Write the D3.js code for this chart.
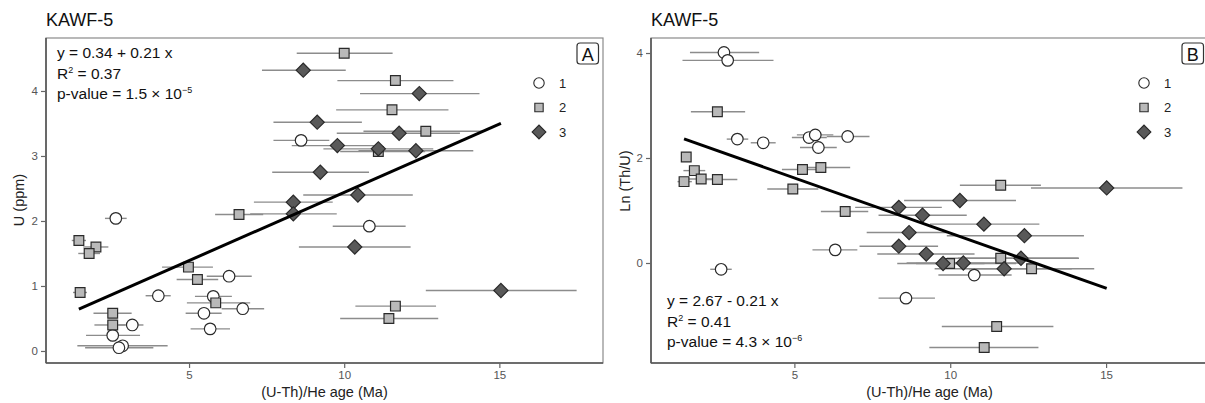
<!DOCTYPE html>
<html><head><meta charset="utf-8">
<script src="https://cdn.jsdelivr.net/npm/d3@7"></script>
<style>body{margin:0;background:#fff} svg{display:block} text{font-family:"Liberation Sans",Arial,Helvetica,sans-serif}</style>
</head><body><svg id="c" width="1205" height="403"></svg>
<script>
// Group labels
const groups = ["1", "2", "3"];
const xTicks = [5, 10, 15];
const yTicksA = [0, 1, 2, 3, 4];
const yTicksB = [0, 2, 4];

// Panel A: U (ppm) vs (U-Th)/He age. Rows: [age, U, ageLow, ageHigh]
const uGroup1 = [
  [2.64, 2.04, 2.29, 2.99], [6.29, 1.15, 5.57, 7.02], [4.01, 0.85, 3.60, 4.41],
  [5.78, 0.84, 5.19, 6.38], [6.73, 0.65, 6.05, 7.42], [5.48, 0.58, 4.89, 6.05],
  [5.68, 0.34, 5.05, 6.32], [3.17, 0.40, 2.72, 3.53], [2.54, 0.24, 1.68, 3.42],
  [2.86, 0.08, 1.40, 4.31], [2.74, 0.05, 1.65, 3.85], [10.81, 1.92, 9.63, 11.98],
  [8.61, 3.24, 7.72, 9.52]
];
const uGroup2 = [
  [1.45, 1.70, 1.22, 1.68], [2.00, 1.60, 1.59, 2.40], [1.78, 1.50, 1.43, 2.13],
  [1.49, 0.90, 1.26, 1.71], [4.98, 1.29, 4.13, 5.77], [5.27, 1.10, 4.60, 5.94],
  [5.86, 0.74, 4.93, 6.97], [2.54, 0.58, 1.92, 3.15], [2.54, 0.40, 1.95, 2.94],
  [6.61, 2.10, 5.84, 7.39], [11.65, 0.69, 10.36, 12.96], [11.44, 0.50, 9.87, 13.03],
  [10.00, 4.58, 8.47, 11.56], [11.65, 4.16, 9.78, 13.52], [11.54, 3.71, 9.74, 13.36],
  [12.63, 3.38, 10.62, 14.48], [11.10, 3.07, 9.87, 12.61]
];
const uGroup3 = [
  [8.68, 4.32, 7.35, 10.05], [12.42, 3.96, 10.51, 14.36], [9.13, 3.52, 7.72, 10.57],
  [11.77, 3.35, 9.76, 13.73], [9.78, 3.16, 8.31, 11.16], [11.10, 3.11, 9.33, 12.87],
  [12.31, 3.08, 10.46, 14.16], [9.23, 2.75, 7.68, 10.80], [10.44, 2.40, 8.68, 12.21],
  [8.36, 2.29, 7.09, 9.63], [8.36, 2.11, 6.97, 9.76], [10.34, 1.60, 8.54, 12.14],
  [15.05, 0.93, 12.63, 17.49]
];

// Panel B: Ln(Th/U) vs (U-Th)/He age. Rows: [age, ln(Th/U), ageLow, ageHigh]
const lnGroup1 = [
  [2.74, 4.01, 1.65, 3.87], [2.86, 3.86, 1.41, 4.33], [3.17, 2.36, 2.83, 3.52],
  [4.00, 2.29, 3.60, 4.40], [5.47, 2.39, 4.92, 6.04], [5.67, 2.44, 5.08, 6.25],
  [6.71, 2.41, 6.04, 7.41], [5.77, 2.20, 5.18, 6.36], [6.31, 0.25, 5.58, 7.02],
  [2.65, -0.12, 2.30, 2.99], [10.77, -0.23, 9.62, 11.97], [8.58, -0.67, 7.70, 9.51]
];
const lnGroup2 = [
  [2.53, 2.88, 1.68, 3.42], [1.53, 2.02, 1.39, 1.65], [1.79, 1.76, 1.44, 2.14],
  [2.01, 1.60, 1.44, 2.46], [2.53, 1.59, 1.92, 3.17], [1.46, 1.55, 1.25, 1.71],
  [5.26, 1.78, 4.60, 5.77], [5.85, 1.82, 5.08, 6.79], [4.95, 1.41, 4.13, 5.77],
  [6.63, 0.98, 5.85, 7.37], [11.62, 1.48, 10.31, 12.91], [9.98, -0.01, 8.90, 11.10],
  [11.62, 0.09, 9.89, 14.11], [12.61, -0.11, 10.60, 14.62], [11.49, -1.21, 9.73, 13.31],
  [11.09, -1.61, 9.33, 12.83]
];
const lnGroup3 = [
  [15.02, 1.43, 12.59, 17.45], [10.31, 1.19, 8.52, 12.11], [8.35, 1.06, 6.95, 9.73],
  [9.11, 0.91, 7.70, 10.53], [11.08, 0.74, 9.35, 12.86], [8.68, 0.58, 7.32, 9.89],
  [12.38, 0.52, 9.89, 14.29], [8.35, 0.32, 7.09, 9.61], [9.23, 0.17, 7.66, 10.78],
  [9.77, -0.01, 8.30, 12.11], [10.42, 0.00, 8.60, 12.20], [12.27, 0.09, 10.25, 14.13],
  [11.73, -0.11, 9.50, 13.90]
];

// Regression fits [intercept, slope]
const fitA = [0.34, 0.21];
const fitB = [2.67, -0.21];
const statsA = ["y = 0.34 + 0.21 x", "0.37", "1.5", "-5"];
const statsB = ["y = 2.67 - 0.21 x", "0.41", "4.3", "-6"];

const svg = d3.select("#c");
const fills = ["#ffffff", "#b9b9b9", "#595959"];
const symTypes = [d3.symbolCircle, d3.symbolSquare, d3.symbolSquare];
const symRot = [0, 0, 45];
const symSizes = [105, 95, 100];
const legSizes = [85, 70, 95];

function drawPanel(cfg) {
  const g = svg.append("g");
  const x = d3.scaleLinear().domain(cfg.xDomain).range([cfg.left, cfg.right]);
  const y = d3.scaleLinear().domain(cfg.yDomain).range([cfg.bottom, cfg.top]);

  // title
  g.append("text").attr("x", cfg.left).attr("y", 26).attr("font-size", 18).attr("fill", "#111").text("KAWF-5");

  // frame
  g.append("rect").attr("x", cfg.left).attr("y", cfg.top)
    .attr("width", cfg.right - cfg.left).attr("height", cfg.bottom - cfg.top)
    .attr("fill", "none").attr("stroke", "#8a8a8a").attr("stroke-width", 1.2);
  g.append("line").attr("x1", cfg.left).attr("x2", cfg.left).attr("y1", cfg.top).attr("y2", cfg.bottom)
    .attr("stroke", "#555").attr("stroke-width", 1.6);
  g.append("line").attr("x1", cfg.left).attr("x2", cfg.right).attr("y1", cfg.bottom).attr("y2", cfg.bottom)
    .attr("stroke", "#555").attr("stroke-width", 1.6);

  // axes
  const ax = g.append("g").attr("transform", `translate(0,${cfg.bottom})`)
    .call(d3.axisBottom(x).tickValues(xTicks).tickSize(5).tickPadding(3).tickFormat(d3.format("d")));
  const ay = g.append("g").attr("transform", `translate(${cfg.left},0)`)
    .call(d3.axisLeft(y).tickValues(cfg.yTicks).tickSize(5).tickPadding(3).tickFormat(d3.format("d")));
  [ax, ay].forEach(a => {
    a.select(".domain").remove();
    a.selectAll(".tick line").attr("stroke", "#666").attr("stroke-width", 1.2);
    a.selectAll(".tick text").attr("fill", "#555").attr("font-size", 11.5)
      .attr("font-family", '"Liberation Sans",Arial,sans-serif');
  });

  // axis titles
  g.append("text").attr("x", (cfg.left + cfg.right) / 2).attr("y", 397).attr("text-anchor", "middle")
    .attr("font-size", 14.5).attr("fill", "#222").text("(U-Th)/He age (Ma)");
  g.append("text").attr("transform", `translate(${cfg.yLabelX},${cfg.yLabelY}) rotate(-90)`)
    .attr("text-anchor", "middle").attr("font-size", 14.5).attr("fill", "#222").text(cfg.yLabel);

  // error bars
  cfg.data.forEach((rows) => {
    g.append("g").selectAll("line").data(rows).join("line")
      .attr("x1", d => x(d[2])).attr("x2", d => x(d[3]))
      .attr("y1", d => y(d[1])).attr("y2", d => y(d[1]))
      .attr("stroke", "#8c8c8c").attr("stroke-width", 1.4);
  });
  // points
  cfg.data.forEach((rows, i) => {
    const sym = d3.symbol().type(symTypes[i]).size(symSizes[i]);
    g.append("g").selectAll("path").data(rows).join("path")
      .attr("transform", d => `translate(${x(d[0])},${y(d[1])}) rotate(${symRot[i]})`)
      .attr("d", sym).attr("fill", fills[i]).attr("stroke", "#2a2a2a").attr("stroke-width", 1.2);
  });

  // regression line
  const all = cfg.data.flat();
  const xMin = d3.min(all, d => d[0]), xMax = d3.max(all, d => d[0]);
  g.append("line").attr("x1", x(xMin)).attr("x2", x(xMax))
    .attr("y1", y(cfg.fit[0] + cfg.fit[1] * xMin)).attr("y2", y(cfg.fit[0] + cfg.fit[1] * xMax))
    .attr("stroke", "#000").attr("stroke-width", 3);

  // stats text
  const st = g.append("g").attr("font-size", 15.5).attr("fill", "#111");
  st.append("text").attr("x", cfg.statX).attr("y", cfg.statY).text(cfg.stats[0]);
  const r2 = st.append("text").attr("x", cfg.statX).attr("y", cfg.statY + 20.5);
  r2.append("tspan").text("R");
  r2.append("tspan").attr("font-size", 9).attr("dy", -6).text("2");
  r2.append("tspan").attr("dy", 6).text(" = " + cfg.stats[1]);
  const pv = st.append("text").attr("x", cfg.statX).attr("y", cfg.statY + 41);
  pv.append("tspan").text("p-value = " + cfg.stats[2] + " \u00d7 10");
  pv.append("tspan").attr("font-size", 9).attr("dy", -6).text(cfg.stats[3].replace("-", "\u2212"));

  // legend
  groups.forEach((lab, i) => {
    const ly = 83 + i * 24.5;
    g.append("path").attr("transform", `translate(${cfg.legX},${ly}) rotate(${symRot[i]})`)
      .attr("d", d3.symbol().type(symTypes[i]).size(legSizes[i]))
      .attr("fill", fills[i]).attr("stroke", "#2a2a2a").attr("stroke-width", 1.1);
    g.append("text").attr("x", cfg.legX + 20).attr("y", ly + 4.5).attr("font-size", 13).attr("fill", "#222").text(lab);
  });

  // panel letter
  g.append("rect").attr("x", cfg.boxX).attr("y", 43).attr("width", 21.5).attr("height", 21)
    .attr("rx", 3).attr("fill", "#fff").attr("stroke", "#333").attr("stroke-width", 1.2);
  g.append("text").attr("x", cfg.boxX + 10.75).attr("y", 60.5).attr("text-anchor", "middle")
    .attr("font-size", 18).attr("fill", "#111").text(cfg.letter);
}

drawPanel({
  left: 46, right: 603, top: 38, bottom: 363,
  xDomain: [0.39, 18.34], yDomain: [-0.185, 4.815], yTicks: yTicksA,
  data: [uGroup1, uGroup2, uGroup3], fit: fitA, stats: statsA,
  statX: 57, statY: 58, legX: 539, boxX: 577,
  letter: "A", yLabel: "U (ppm)", yLabelX: 24, yLabelY: 200
});
drawPanel({
  left: 651, right: 1208, top: 38, bottom: 363,
  xDomain: [0.40, 18.27], yDomain: [-1.905, 4.286], yTicks: yTicksB,
  data: [lnGroup1, lnGroup2, lnGroup3], fit: fitB, stats: statsB,
  statX: 667, statY: 306, legX: 1144, boxX: 1182,
  letter: "B", yLabel: "Ln (Th/U)", yLabelX: 630, yLabelY: 181
});
</script></body></html>
